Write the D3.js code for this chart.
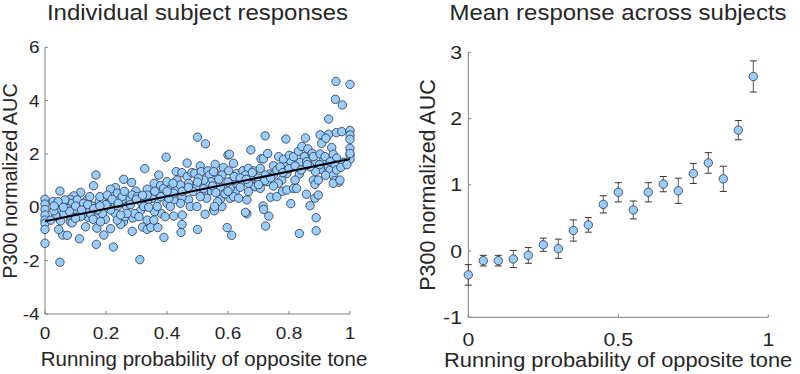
<!DOCTYPE html>
<html lang="en">
<head>
<meta charset="utf-8">
<title>P300 AUC</title>
<script src="https://d3js.org/d3.v7.min.js"></script>
<style>
  body { margin: 0; background: #fff; }
  text { font-family: "Liberation Sans", Arial, sans-serif; fill: #262626; }
</style>
</head>
<body>
<script>
"use strict";

// individual subject responses: [running probability, normalized AUC]
const subjectPoints = [
  [0,0.3],[0,0.12],[0,-0.08],[0,-0.29],[0,-0.48],[0,-0.6],[0,-0.83],[0,-1.35],
  [0.954,4.72],[1,4.61],[0.952,4.05],[0.975,3.84],[0.93,3.31],[0.902,2.72],[0.93,2.74],
  [0.955,2.8],[0.973,2.84],[1,2.88],[1,2.71],[1,2.55],[1,2.21],[1,1.96],[1,1.8],
  [0.722,2.68],[0.79,2.56],[0.854,2.6],[0.5,2.63],[0.526,2.38],[0.397,1.88],[0.327,1.45],
  [0.167,1.21],[0.159,0.81],[0.049,0.61],[0.027,0.22],
  [0.049,-2.06],[0.311,-1.96],[0.168,-1.39],[0.224,-1.49],[0.113,-1.18],[0.058,-1.04],
  [0.073,-1.05],[0.193,-1.04],[0.286,-0.9],[0.39,-1.13],[0.446,-0.94],[0.5,-0.83],
  [0.597,-0.76],[0.612,-1.05],[0.723,-0.7],[0.834,-0.98],[0.889,-0.88],[0.889,-0.39],
  [0.806,0.14],[0.869,0.06],[0.885,0.34],[0.857,0.49],[0.896,0.46],[0.662,-0.24],
  [0.657,-0.19],[0.715,0.05],[0.717,-0.08],[0.734,-0.33],[0.74,0.38],[0.76,0.4],
  [0.779,0.6],[0.793,0.65],[0.525,-0.26],[0.553,-0.08],[0.555,-0.13],[0.58,0.03],
  [0.32,-0.74],[0.335,-0.83],[0.347,-0.75],[0.37,-0.76],[0.335,-0.48],[0.449,-0.64],
  [0.45,-0.29],[0.422,-0.33],[0.382,-0.24],[0.394,-0.35],[0.359,-0.16],[0.313,-0.13],
  [0.257,-0.55],[0.263,-0.35],[0.248,-0.64],[0.215,-0.8],[0.198,-0.45],[0.17,-0.78],
  [0.133,-0.73],[0.083,-0.54],[0.045,-0.83],[0.051,-0.51],[0.142,-0.38],[0.17,-0.3],
  [0.288,-0.4],[0.293,-0.23],
  [0.284,0.93],[0.258,1.05],[0.231,0.74],[0.215,0.68],[0.117,0.56],[0.095,0.43],
  [0.082,0.3],[0.073,0.18],[0.178,0.22],[0.193,0.2],[0.206,0.15],[0.138,0.28],
  [0.298,0.61],[0.335,0.68],[0.358,0.9],[0.373,1.21],[0.379,0.82],[0.39,0.52],
  [0.411,0.68],[0.43,1.34],[0.433,1.02],[0.449,1.3],[0.466,1.66],[0.466,1.15],
  [0.482,1.3],[0.491,1.27],[0.509,1.55],[0.512,1.34],[0.534,1.37],[0.539,1.21],
  [0.558,1.61],[0.558,1.3],[0.585,1.49],[0.6,1.96],[0.605,1.99],[0.618,1.65],
  [0.602,1.37],[0.629,1.27],[0.649,1.37],[0.675,2.15],[0.667,1.46],[0.684,1.37],
  [0.706,1.46],[0.708,1.82],[0.716,1.82],[0.73,2.02],[0.749,1.56],[0.766,1.9],
  [0.782,1.8],[0.801,1.95],[0.806,1.68],[0.815,1.9],[0.831,2.1],[0.842,2.28],
  [0.85,1.9],[0.862,2.19],[0.876,2.02],[0.885,1.65],[0.913,1.78],[0.907,2.4],
  [0.921,2.59],[0.94,2.24],[0.945,1.99],[0.956,1.84],[0.978,1.69],[0.929,1.52],
  [0.935,1.4],[0.945,1.19],[0.949,1.0],[0.963,0.94],[0.945,0.9],[0.902,1.43],
  [0.887,1.34],[0.88,1.02],[0.885,0.86],[0.896,1.02],[0.869,1.52],[0.847,1.52],
  [0.834,1.25],[0.82,1.02],[0.815,0.71],[0.825,0.71],[0.793,1.27],[0.776,1.02],
  [0.765,0.9],[0.749,0.8],[0.736,1.25],[0.727,0.96],[0.787,1.52],[0.695,1.02],
  [0.689,0.77],[0.667,0.9],[0.667,0.59],[0.64,0.96],[0.629,0.77],[0.624,0.59],
  [0.607,0.71],[0.607,0.34],[0.618,0.4],[0.635,0.34],[0.575,0.77],[0.564,0.96],
  [0.544,0.96],[0.53,0.84],[0.512,0.77],[0.498,0.77],[0.485,0.59],[0.471,0.28],
  [0.476,0.03],[0.498,0.03],[0.575,0.3],[0.566,0.21],[0.59,0.5],[0.542,0.62],
  [0.449,0.38],[0.444,0.15],[0.422,0.28],[0.4,0.15],[0.406,0.33],[0.368,0.28],
  [0.351,0.34],[0.335,0.21],[0.318,0.13],[0.324,0.03],[0.275,0.28],[0.267,0.03],
  [0.253,0.28],[0.237,0.03],[0.231,-0.23],[0.215,-0.1],[0.193,-0.04],[0.188,-0.23],
  [0.171,-0.1],[0.149,-0.23],[0.128,-0.04],[0.122,-0.29],[0.106,-0.23],[0.095,-0.08],
  [0.079,-0.29],[0.062,-0.13],[0.053,0.03],[0.04,-0.13],[0.035,-0.33],[0.089,0.15],
  [0.106,0.28],[0.126,0.15],[0.062,0.13],[0.065,0.28],[0.147,0.4],[0.18,0.4],
  [0.204,0.46],[0.237,0.53],[0.253,0.4],[0.286,0.46],[0.302,0.4],[0.335,0.46],
  [0.373,0.53],[0.389,0.71],[0.427,0.65],[0.4,0.96],[0.422,0.53],[0.46,0.65],
  [0.471,0.9],[0.444,0.84],[0.52,0.53],[0.53,0.34],[0.509,0.4],[0.556,0.03],
  [0.662,0.28],[0.706,0.71],[0.722,1.21],[0.749,1.21],[0.76,1.4],[0.771,1.52],
  [0.836,1.68],[0.858,1.71],[0.88,1.9],[0.902,2.0],[0.918,1.9],[0.935,1.71],
  [0.951,1.59],[0.967,1.02],[1,2.02],[0.956,1.4],[0.618,1.02],[0.684,1.15],
  [0.657,1.21],[0.58,1.21],[0.553,1.34],[0.521,1.02],[0.503,1.09],
  [0.019,-0.48],[0.089,-0.58],[0.117,-0.35],[0.158,-0.45],[0.182,-0.54],[0.237,-0.48],
  [0.269,-0.23],[0.248,-0.29],[0.357,-0.48],[0.411,0.03],[0.368,0.03],[0.308,-0.35],
  [0.155,0.05],[0.138,-0.04],[0.073,-0.04],[0.1,-0.41],[0.029,-0.13],[0.043,0.21],
  [0.062,-0.23],
  [0.45,0.6],[0.47,0.75],[0.5,0.95],[0.52,0.7],[0.55,0.8],[0.57,1.05],[0.6,0.95],
  [0.62,1.15],[0.64,1.1],[0.66,1.05],[0.68,1.3],[0.7,1.1],[0.72,1.0],[0.74,1.1],
  [0.3,0.3],[0.32,0.45],[0.34,0.0],[0.36,0.6],[0.38,0.4],[0.4,0.6],[0.42,0.9],
  [0.2,0.1],[0.22,0.3],[0.24,0.15],[0.26,0.6],[0.28,0.1],[0.1,0.05],[0.12,-0.1],
  [0.14,0.1],[0.16,-0.05],[0.18,0.05],[0.08,-0.15],[0.06,0.0],[0.03,0.05],
  [0.78,1.3],[0.8,1.45],[0.82,1.55],[0.84,1.4],[0.86,1.6],[0.9,1.6],[0.92,1.2],
  [0.97,1.5],[0.99,1.6],[0.56,0.55],[0.6,0.6],[0.64,0.75],[0.7,0.85]
];

// least-squares fit line endpoints
const fitX = [0, 1];
const fitY = [-0.52, 1.81];

// binned means across subjects
const binX = [0,0.05,0.1,0.15,0.2,0.25,0.3,0.35,0.4,0.45,0.5,0.55,0.6,0.65,0.7,0.75,0.8,0.85,0.9,0.95];
const binMean = [-0.36,-0.145,-0.145,-0.12,-0.065,0.095,0.035,0.31,0.395,0.705,0.887,0.62,0.887,1.01,0.91,1.17,1.33,1.09,1.825,2.635];
const binErr = [0.155,0.08,0.08,0.13,0.12,0.10,0.145,0.16,0.11,0.13,0.145,0.135,0.145,0.115,0.19,0.15,0.155,0.19,0.145,0.235];

const leftXTicks = [0, 0.2, 0.4, 0.6, 0.8, 1];
const leftYTicks = [-4, -2, 0, 2, 4, 6];
const rightXTicks = [0, 0.5, 1];
const rightYTicks = [-1, 0, 1, 2, 3];

const W = 800, H = 374;
const fill = "#99ccff", edge = "#2b3540", axisCol = "#808080";

const svg = d3.select("body").append("svg")
  .attr("width", W).attr("height", H);

// text helper, horizontally stretched like the original export
function label(x, y, str, size, anchor, sx, rot) {
  return svg.append("text")
    .attr("transform", "translate(" + x + "," + y + ")" + (rot ? " rotate(" + rot + ")" : "") + " scale(" + sx + ",1)")
    .attr("text-anchor", anchor)
    .style("font-size", size + "px")
    .text(str);
}

function axes(x, y, xt, yt, fmt, tickSize, tickSx, yLabX, xLabY) {
  const g = svg.append("g");
  const [x0, x1] = x.range(), [y0, y1] = y.range();
  g.append("line").attr("x1", x0).attr("x2", x1).attr("y1", y0).attr("y2", y0)
    .attr("stroke", axisCol);
  g.append("line").attr("x1", x0).attr("x2", x0).attr("y1", y0).attr("y2", y1)
    .attr("stroke", axisCol);
  xt.forEach(v => {
    g.append("line").attr("x1", x(v)).attr("x2", x(v)).attr("y1", y0).attr("y2", y0 - 3)
      .attr("stroke", axisCol);
    label(x(v), xLabY, fmt(v), tickSize, "middle", tickSx);
  });
  yt.forEach(v => {
    g.append("line").attr("x1", x0).attr("x2", x0 + 3).attr("y1", y(v)).attr("y2", y(v))
      .attr("stroke", axisCol);
    label(yLabX, y(v) + tickSize * 0.36, v, tickSize, "end", tickSx);
  });
}

// ---- left panel
const xL = d3.scaleLinear().domain([0, 1]).range([45, 350]);
const yL = d3.scaleLinear().domain([-4, 6]).range([314, 47.3]);

axes(xL, yL, leftXTicks, leftYTicks, d3.format("~g"), 16.5, 1.15, 39.5, 338.5);

svg.append("g").selectAll("circle")
  .data(subjectPoints)
  .enter()
  .append("circle")
  .attr("cx", d => xL(d[0]))
  .attr("cy", d => yL(d[1]))
  .attr("r", 4.2)
  .style("fill", fill)
  .style("stroke", edge)
  .style("stroke-width", 0.8);

svg.append("line")
  .attr("x1", xL(fitX[0])).attr("y1", yL(fitY[0]))
  .attr("x2", xL(fitX[1])).attr("y2", yL(fitY[1]))
  .attr("stroke", "#000").attr("stroke-width", 2);

label(197.5, 19.5, "Individual subject responses", 22, "middle", 1.09);
label(204, 366, "Running probability of opposite tone", 19.5, "middle", 1.05);
label(17, 181, "P300 normalized AUC", 19.5, "middle", 1.02, -90);

// ---- right panel
const xR = d3.scaleLinear().domain([0, 1]).range([468.3, 768.3]);
const yR = d3.scaleLinear().domain([-1, 3]).range([317.3, 52.3]);

axes(xR, yR, rightXTicks, rightYTicks, d3.format("~g"), 18.5, 1.15, 462, 345.5);

const bars = svg.append("g");
binX.forEach((v, i) => {
  const cx = xR(v), top = yR(binMean[i] + binErr[i]), bot = yR(binMean[i] - binErr[i]);
  bars.append("line").attr("x1", cx).attr("x2", cx).attr("y1", top).attr("y2", bot)
    .attr("stroke", "#555").attr("stroke-width", 1);
  [top, bot].forEach(yy => {
    bars.append("line").attr("x1", cx - 3.5).attr("x2", cx + 3.5).attr("y1", yy).attr("y2", yy)
      .attr("stroke", "#333").attr("stroke-width", 1);
  });
});

svg.append("g").selectAll("circle")
  .data(binX)
  .enter()
  .append("circle")
  .attr("cx", d => xR(d))
  .attr("cy", (d, i) => yR(binMean[i]))
  .attr("r", 4.2)
  .style("fill", fill)
  .style("stroke", edge)
  .style("stroke-width", 0.8);

label(618, 19.5, "Mean response across subjects", 22, "middle", 1.09);
label(444, 367, "Running probability of opposite tone", 21, "start", 1.04);
label(435, 185, "P300 normalized AUC", 21.5, "middle", 1, -90);
</script>
</body>
</html>
